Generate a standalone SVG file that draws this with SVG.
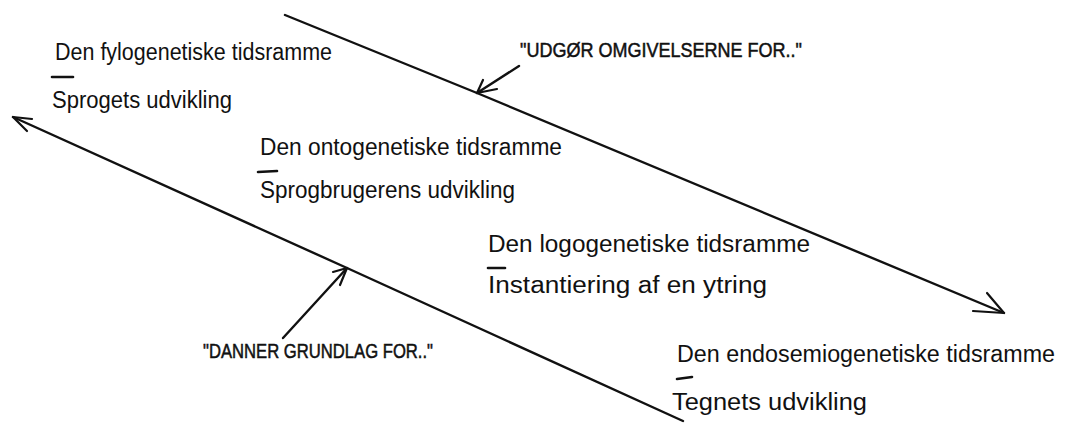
<svg xmlns="http://www.w3.org/2000/svg" width="1071" height="424" viewBox="0 0 1071 424">
  <style>
    .hw { font-family: "Liberation Sans", Arial, sans-serif; font-size: 23px; fill: #111; }
    .cap { font-family: "Liberation Sans", Arial, sans-serif; font-size: 20px; fill: #111; stroke: #111; stroke-width: 0.5; }
    .dash { stroke: #111; stroke-width: 2.6; stroke-linecap: round; fill: none; }
    .line { stroke: #111; stroke-width: 2.4; stroke-linecap: round; stroke-linejoin: round; fill: none; }
    .head { stroke: #111; stroke-width: 2.2; stroke-linecap: round; stroke-linejoin: round; fill: none; }
  </style>
  <rect width="1071" height="424" fill="#fff"/>

  <!-- time frames -->
  <g id="fylogenetisk">
    <text class="hw" x="55" y="60" textLength="277" lengthAdjust="spacingAndGlyphs">Den fylogenetiske tidsramme</text>
    <path class="dash" d="M52,77 L73,77"/>
    <text class="hw" x="52" y="108" textLength="180" lengthAdjust="spacingAndGlyphs">Sprogets udvikling</text>
  </g>

  <g id="ontogenetisk">
    <text class="hw" x="260" y="155" textLength="302" lengthAdjust="spacingAndGlyphs">Den ontogenetiske tidsramme</text>
    <path class="dash" d="M258,172 L277,171"/>
    <text class="hw" x="260" y="198" textLength="255" lengthAdjust="spacingAndGlyphs">Sprogbrugerens udvikling</text>
  </g>

  <g id="logogenetisk">
    <text class="hw" x="488" y="252" textLength="322" lengthAdjust="spacingAndGlyphs">Den logogenetiske tidsramme</text>
    <path class="dash" d="M488,268 L505,268"/>
    <text class="hw" x="488" y="293" textLength="279" lengthAdjust="spacingAndGlyphs">Instantiering af en ytring</text>
  </g>

  <g id="endosemiogenetisk">
    <text class="hw" x="677" y="362" textLength="378" lengthAdjust="spacingAndGlyphs">Den endosemiogenetiske tidsramme</text>
    <path class="dash" d="M677,379 L692,377"/>
    <text class="hw" x="672" y="410" textLength="195" lengthAdjust="spacingAndGlyphs">Tegnets udvikling</text>
  </g>

  <!-- relation labels -->
  <g id="label-udgoer">
    <text class="cap" x="520" y="57" textLength="282" lengthAdjust="spacingAndGlyphs">"UDGØR OMGIVELSERNE FOR.."</text>
  </g>
  <g id="label-danner">
    <text class="cap" x="203" y="358" textLength="230" lengthAdjust="spacingAndGlyphs">"DANNER GRUNDLAG FOR.."</text>
  </g>

  <!-- connectors -->
  <g id="connectors">
    <!-- downward: wider frame forms the surroundings of the narrower -->
    <path class="line" d="M285,15 L477,93 Q760,210 1004,313"/>
    <path class="head" d="M973,311 L1004,313 L987,293"/>
    <!-- upward: narrower frame forms the basis of the wider -->
    <path class="line" d="M683,421 L347,268 L13,117"/>
    <path class="head" d="M32,119 L13,117 L27,131"/>
    <!-- label pointers -->
    <path class="line" d="M519,66 L477,93"/>
    <path class="head" d="M483,80 L477,93 L497,89"/>
    <path class="line" d="M283,338 L347,268"/>
    <path class="head" d="M333,272 L347,268 L340,285"/>
  </g>
</svg>
